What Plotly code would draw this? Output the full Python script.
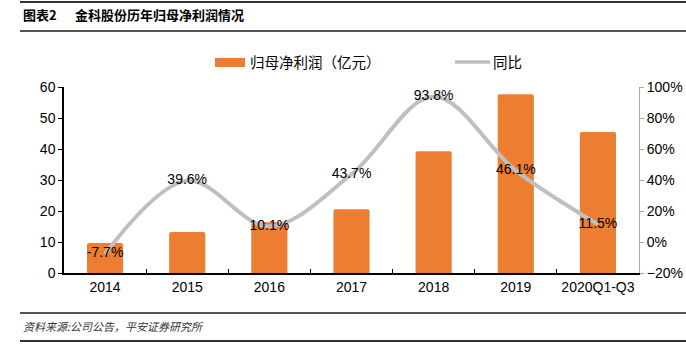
import plotly.graph_objects as go

categories = ["2014", "2015", "2016", "2017", "2018", "2019", "2020Q1-Q3"]
profit = [9.7, 13.2, 16.4, 20.6, 39.3, 57.7, 45.5]
yoy = [-7.7, 39.6, 10.1, 43.7, 93.8, 46.1, 11.5]
yoy_labels = [f"{v:.1f}%" for v in yoy]

bar_name = "归母净利润（亿元）"
line_name = "同比"
title_left = "图表2"
title_right = "金科股份历年归母净利润情况"
source = "资料来源:公司公告，平安证券研究所"

FONT = "Liberation Sans, Arial, Noto Sans CJK SC, sans-serif"
CJK = "Noto Sans CJK SC, Liberation Sans, sans-serif"

BAR_COLOR = "#ED7D31"
LINE_COLOR = "#BFBFBF"

fig = go.Figure()
fig.add_trace(go.Bar(
    x=categories, y=profit, name=bar_name,
    marker=dict(color=BAR_COLOR, line=dict(width=0)),
    width=0.44, yaxis="y",
))
fig.add_trace(go.Scatter(
    x=categories, y=yoy, name=line_name, yaxis="y2",
    mode="lines+text", line=dict(color=LINE_COLOR, width=4, shape="spline", smoothing=1.0),
    text=yoy_labels, textposition="middle center",
    textfont=dict(family=FONT, size=14, color="#000000"),
))

PL, PT, PW, PH = 64, 87, 575, 186


def px(x):
    return (x - PL) / PW


def py(y):
    return (PT + PH - y) / PH


fig.update_layout(
    width=686, height=355,
    margin=dict(l=PL, r=686 - PL - PW, t=PT, b=355 - PT - PH, autoexpand=False),
    paper_bgcolor="white", plot_bgcolor="white",
    font=dict(family=FONT, size=14, color="#000000"),
    barcornerradius=2,
    showlegend=False,
    xaxis=dict(
        type="category", showline=True, linecolor="#000000", linewidth=1.5,
        ticks="inside", tickson="boundaries", ticklen=4, tickcolor="#000000",
        showgrid=False, tickangle=0, automargin=False,
        tickfont=dict(family=FONT, size=14),
    ),
    yaxis=dict(
        range=[0, 60], dtick=10, showline=True, linecolor="#000000", linewidth=1.5,
        ticks="outside", ticklen=4, tickcolor="#000000", showgrid=False, zeroline=False,
        automargin=False, tickfont=dict(family=FONT, size=14),
    ),
    yaxis2=dict(
        range=[-20, 100], dtick=20, overlaying="y", side="right", ticksuffix="%",
        showline=True, linecolor="#A6A6A6", linewidth=1, ticks="outside", ticklen=4,
        tickcolor="#A6A6A6", showgrid=False, zeroline=False, automargin=False,
        tickfont=dict(family=FONT, size=14),
    ),
)

# header and footer rules
for y, w, c in [(2, 2, "#333333"), (31, 2, "#555555"), (313, 2, "#555555"), (341, 2, "#333333")]:
    fig.add_shape(type="line", xref="paper", yref="paper",
                  x0=px(20), x1=px(686), y0=py(y), y1=py(y),
                  line=dict(color=c, width=w))

# legend drawn by hand
fig.add_shape(type="rect", xref="paper", yref="paper",
              x0=px(215), x1=px(245), y0=py(58), y1=py(67),
              fillcolor=BAR_COLOR, line=dict(width=0))
fig.add_shape(type="line", xref="paper", yref="paper",
              x0=px(455), x1=px(490), y0=py(62), y1=py(62),
              line=dict(color=LINE_COLOR, width=3.5))
fig.add_annotation(text=bar_name, xref="paper", yref="paper",
                   x=px(248), y=py(62), xanchor="left", yanchor="middle",
                   showarrow=False, font=dict(family=CJK, size=14.5, color="#000000"))
fig.add_annotation(text=line_name, xref="paper", yref="paper",
                   x=px(491), y=py(62), xanchor="left", yanchor="middle",
                   showarrow=False, font=dict(family=CJK, size=14.5, color="#000000"))

fig.add_annotation(text=f"<b>{title_left}</b>", xref="paper", yref="paper",
                   x=px(21), y=py(15), xanchor="left", yanchor="middle",
                   showarrow=False, font=dict(family=CJK, size=13, color="#000000"))
fig.add_annotation(text=f"<b>{title_right}</b>", xref="paper", yref="paper",
                   x=px(73), y=py(15), xanchor="left", yanchor="middle",
                   showarrow=False, font=dict(family=CJK, size=13, color="#000000"))
fig.add_annotation(text=f"<i>{source}</i>", xref="paper", yref="paper",
                   x=px(21), y=py(326), xanchor="left", yanchor="middle",
                   showarrow=False, font=dict(family=CJK, size=11, color="#333333"))

fig.write_html(
    "out.html",
    config={"displayModeBar": False},
    post_script="document.body.style.margin='0';document.body.style.overflow='hidden';",
)
